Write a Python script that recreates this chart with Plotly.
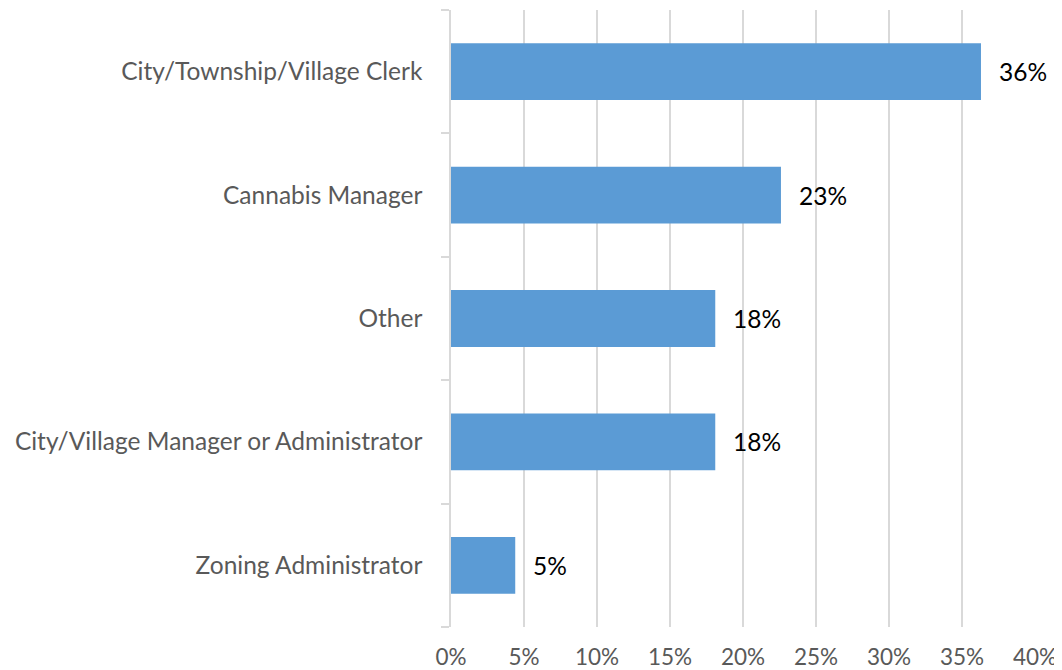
import plotly.graph_objects as go

categories = ["City/Township/Village Clerk", "Cannabis Manager", "Other",
              "City/Village Manager or Administrator", "Zoning Administrator"]
values = [0.363, 0.226, 0.181, 0.181, 0.044]
labels = ["36%", "23%", "18%", "18%", "5%"]
x_ticks = [0, 0.05, 0.10, 0.15, 0.20, 0.25, 0.30, 0.35, 0.40]
x_tick_labels = ["0%", "5%", "10%", "15%", "20%", "25%", "30%", "35%", "40%"]

fig = go.Figure()
fig.add_trace(go.Bar(
    x=values, y=categories, orientation="h",
    marker=dict(color="#5B9BD5", line=dict(width=0)),
    hoverinfo="skip",
))

for v, c, t in zip(values, categories, labels):
    fig.add_annotation(x=v, y=c, text=t, showarrow=False, xanchor="left",
                       xshift=16, font=dict(family="Lato", size=24.5, color="#000000"))

fig.update_layout(
    width=1054, height=662,
    margin=dict(l=443, r=27, t=2, b=43),
    paper_bgcolor="white", plot_bgcolor="white",
    bargap=0.54, showlegend=False,
    font=dict(family="Lato", size=20, color="#595959"),
)
fig.update_xaxes(range=[0, 0.40], tickvals=x_ticks, ticktext=x_tick_labels,
                 showgrid=True, gridcolor="#D9D9D9", gridwidth=1.5,
                 zeroline=False, showline=False, ticks="", automargin=False,
                 ticklabelstandoff=14,
                 tickfont=dict(family="Lato", size=22.5, color="#595959"))
fig.update_yaxes(categoryorder="array", categoryarray=categories[::-1],
                 showline=True, linecolor="#D9D9D9", linewidth=1.5,
                 ticks="outside", tickson="boundaries", ticklen=8,
                 tickcolor="#D9D9D9", tickwidth=1.5, showgrid=False,
                 ticklabelstandoff=22, automargin=False,
                 tickfont=dict(family="Lato", size=24.5, color="#595959"))

fig.write_html("out.html")
